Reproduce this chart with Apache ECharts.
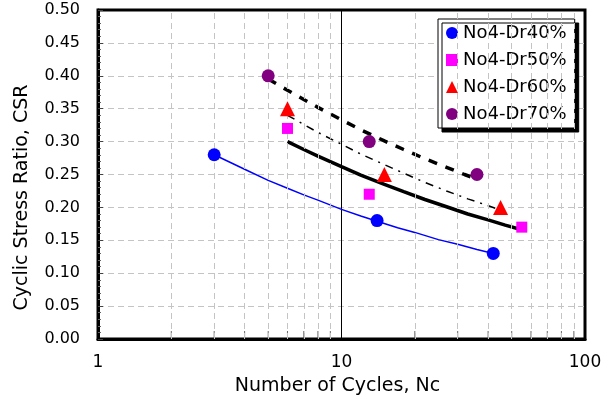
<!DOCTYPE html>
<html><head><meta charset="utf-8">
<script src="https://cdn.jsdelivr.net/npm/echarts@6/dist/echarts.min.js"></script>
<style>html,body{margin:0;padding:0;background:#fff}#c{width:611px;height:401px}</style>
</head><body><div id="c"></div>
<script>
const seriesNames = ['No4-Dr40%', 'No4-Dr50%', 'No4-Dr60%', 'No4-Dr70%'];
// measured test points (N, CSR)
const cycles40 = [3, 14, 42];   const csr40 = [0.28, 0.18, 0.13];
const cycles50 = [6, 13, 55];   const csr50 = [0.32, 0.22, 0.17];
const cycles60 = [6, 15, 45];   const csr60 = [0.35, 0.25, 0.20];
const cycles70 = [5, 13, 36];   const csr70 = [0.40, 0.30, 0.25];
// trend curves
const trend40N   = [3, 4, 5, 6, 7, 8, 10, 12, 14, 17, 20, 25, 30, 36, 42];
const trend40CSR = [0.280, 0.258, 0.241, 0.229, 0.219, 0.211, 0.197, 0.187, 0.179, 0.169, 0.162, 0.151, 0.144, 0.136, 0.130];
const trend50N   = [6, 7, 8, 10, 12, 15, 18, 22, 27, 33, 40, 47, 55];
const trend50CSR = [0.300, 0.288, 0.278, 0.262, 0.249, 0.235, 0.224, 0.212, 0.201, 0.190, 0.181, 0.173, 0.166];
const trend60N   = [6, 7, 8, 10, 12, 15, 18, 22, 27, 33, 39, 45];
const trend60CSR = [0.340, 0.326, 0.314, 0.296, 0.281, 0.265, 0.252, 0.238, 0.225, 0.213, 0.204, 0.196];
const trend70N   = [5, 6, 7, 8, 10, 12, 15, 18, 22, 27, 32, 36];
const trend70CSR = [0.395, 0.378, 0.364, 0.352, 0.333, 0.318, 0.301, 0.288, 0.274, 0.261, 0.250, 0.243];
// minor log grid positions
const minorGridN = [2, 3, 4, 5, 6, 7, 8, 9, 20, 30, 40, 50, 60, 70, 80, 90];

const FONT = 'DejaVu Sans';
const zip = (a, b) => a.map((v, i) => [v, b[i]]);

const chart = echarts.init(document.getElementById('c'), null, {renderer: 'canvas'});
const scatterStyle = [
  {symbol: 'circle', size: 13, color: '#0000FF'},
  {symbol: 'rect', size: 11, color: '#FF00FF'},
  {symbol: 'triangle', size: 15, color: '#FF0000'},
  {symbol: 'circle', size: 13, color: '#800080'}
];
const pts = [zip(cycles40, csr40), zip(cycles50, csr50), zip(cycles60, csr60), zip(cycles70, csr70)];

const series = [
  {
    type: 'line', name: 'grid', data: [], silent: true, z: 1,
    markLine: {
      silent: true, symbol: ['none', 'none'], label: {show: false},
      lineStyle: {color: '#c4c4c4', type: [6, 4], width: 1},
      data: minorGridN.map(n => ({xAxis: n}))
    }
  },
  {
    type: 'scatter', name: 'ticks', silent: true, z: 3,
    data: minorGridN.map(n => [n, 0]),
    symbol: 'rect', symbolSize: [1, 8], symbolOffset: [0, -4],
    itemStyle: {color: '#444'}
  },
  {type: 'line', name: 't40', data: zip(trend40N, trend40CSR), symbol: 'none', z: 4,
   lineStyle: {color: '#0000FF', width: 1.5}},
  {type: 'line', name: 't50', data: zip(trend50N, trend50CSR), symbol: 'none', z: 4,
   lineStyle: {color: '#000', width: 3.5}},
  {type: 'line', name: 't60', data: zip(trend60N, trend60CSR), symbol: 'none', z: 4,
   lineStyle: {color: '#000', width: 1.5, type: [8, 6, 2, 6]}},
  {type: 'line', name: 't70', data: zip(trend70N, trend70CSR), symbol: 'none', z: 4,
   lineStyle: {color: '#000', width: 3.5, type: [9, 9]}}
];
seriesNames.forEach((nm, i) => {
  series.push({
    type: 'scatter', name: nm, data: pts[i], z: 6,
    symbol: scatterStyle[i].symbol, symbolSize: scatterStyle[i].size,
    itemStyle: {color: scatterStyle[i].color, opacity: 1}
  });
});

chart.setOption({
  animation: false,
  backgroundColor: '#fff',
  textStyle: {fontFamily: FONT},
  grid: {left: 98, right: 26, top: 10, bottom: 62, show: true, borderColor: '#000', borderWidth: 3, backgroundColor: '#fff'},
  legend: {
    orient: 'vertical', left: 438, top: 19, padding: [5, 8, 5, 8], itemGap: 9,
    itemWidth: 12, itemHeight: 12, backgroundColor: '#fff', borderColor: '#000', borderWidth: 1,
    shadowColor: '#000', shadowOffsetX: 4, shadowOffsetY: 4, shadowBlur: 0,
    textStyle: {fontFamily: FONT, fontSize: 18, color: '#000'},
    data: [
      {name: seriesNames[0], icon: 'circle'},
      {name: seriesNames[1], icon: 'rect'},
      {name: seriesNames[2], icon: 'triangle'},
      {name: seriesNames[3], icon: 'circle'}
    ]
  },
  xAxis: {
    type: 'log', logBase: 10, min: 1, max: 100,
    name: 'Number of Cycles, Nc', nameLocation: 'middle', nameGap: 38,
    nameTextStyle: {fontFamily: FONT, fontSize: 19, color: '#000', padding: [0, 8, 0, 0]},
    axisLine: {show: true, lineStyle: {color: '#000', width: 3}},
    axisTick: {show: false},
    axisLabel: {margin: 15, fontFamily: FONT, fontSize: 17, color: '#000'},
    splitLine: {show: true, lineStyle: {color: '#000', width: 1, type: 'solid'}}
  },
  yAxis: {
    type: 'value', min: 0, max: 0.5, interval: 0.05,
    name: 'Cyclic Stress Ratio, CSR', nameLocation: 'middle', nameGap: 66,
    nameTextStyle: {fontFamily: FONT, fontSize: 19, color: '#000', padding: [0, 46, 0, 0]},
    axisLine: {show: true, lineStyle: {color: '#000', width: 3}},
    axisTick: {show: true, inside: true, length: 5, lineStyle: {color: '#444'}},
    minorTick: {show: true, splitNumber: 5, length: 3, lineStyle: {color: '#666'}},
    axisLabel: {margin: 18, fontFamily: FONT, fontSize: 16, color: '#000', formatter: v => v.toFixed(2)},
    splitLine: {show: true, showMinLine: false, showMaxLine: false, lineStyle: {color: '#c4c4c4', type: [6, 4], width: 1}}
  },
  series: series
});
</script>
</body></html>
